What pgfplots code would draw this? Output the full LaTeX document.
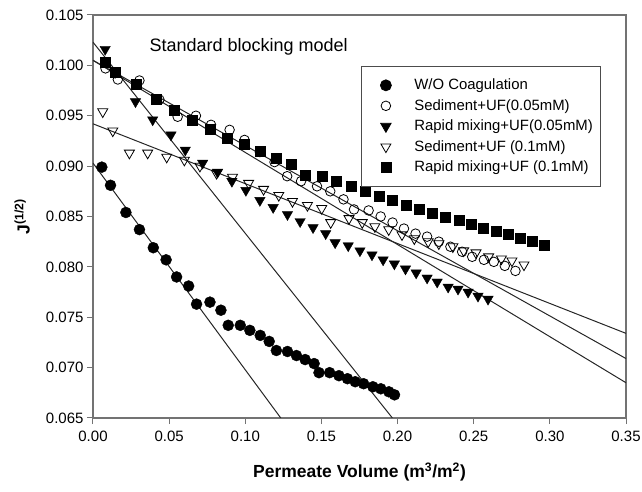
\documentclass[border=0pt]{standalone}
\usepackage{fontspec}
\setmainfont{Liberation Sans}
\usepackage{pgfplots}
\pgfplotsset{compat=1.18}
\begin{document}
\begin{tikzpicture}[x=1pt,y=1pt]
\path[use as bounding box] (-93,-74) rectangle (549,418);
\begin{axis}[
  at={(0,0)}, anchor=south west,
  scale only axis, width=533pt, height=403pt,
  xmin=0, xmax=0.35, ymin=0.065, ymax=0.105,
  xtick={0,0.05,0.1,0.15,0.2,0.25,0.3,0.35},
  ytick={0.065,0.07,0.075,0.08,0.085,0.09,0.095,0.1,0.105},
  scaled ticks=false,
  xticklabel style={yshift=-3pt, /pgf/number format/.cd, fixed, fixed zerofill, precision=2},
  yticklabel style={/pgf/number format/.cd, fixed, fixed zerofill, precision=3},
  /pgf/number format/assume math mode=true,
  tick label style={font=\fontsize{15}{17}\selectfont},
  xtick pos=left, ytick pos=left,
  tick align=outside, major tick length=6pt,
  axis line style={black!55, line width=1.2pt},
  tick style={black!55, line width=1pt},
  xlabel={\textbf{Permeate Volume (m\textsuperscript{3}/m\textsuperscript{2})}},
  ylabel={\textbf{J\textsuperscript{(1/2)}}},
  label style={font=\fontsize{17.5}{19}\selectfont},
  xlabel style={at={(axis description cs:0.5,0)}, anchor=north, yshift=-41pt},
  ylabel style={at={(axis description cs:-0.133,0.5)}, anchor=center},
  legend cell align=left,
  legend image code/.code={\path (-18pt,0pt); \draw[#1] plot coordinates {(0pt,0pt)};},
  legend style={at={(rel axis cs:0.503,0.874)}, anchor=north west,
    draw=black!70, line width=0.8pt, font=\fontsize{14.9}{16}\selectfont,
    inner xsep=6pt, inner ysep=11pt, row sep=4.2pt,
    /tikz/every odd column/.append style={column sep=21pt}},
]
% fitted lines
\addplot[forget plot, black!85, line width=1pt] coordinates {(0,0.0903) (0.1233,0.065)};
\addplot[forget plot, black!85, line width=1pt] coordinates {(0,0.1023) (0.1966,0.065)};
\addplot[forget plot, black!85, line width=1pt] coordinates {(0,0.0942) (0.35,0.0734)};
\addplot[forget plot, black!85, line width=1pt] coordinates {(0,0.1005) (0.35,0.0709)};
\addplot[forget plot, black!85, line width=1pt] coordinates {(0,0.1005) (0.35,0.0685)};
% W/O Coagulation
\addplot[only marks, mark=*, mark size=5.5pt, black, mark options={fill=black}] coordinates {
(0.0058,0.0899) (0.0115,0.0881) (0.0216,0.0854) (0.0305,0.0837) (0.0396,0.0819)
(0.0480,0.0807) (0.0549,0.0790) (0.0628,0.0781) (0.0680,0.0763) (0.0768,0.0765)
(0.0840,0.0757) (0.0888,0.0742) (0.0967,0.0742) (0.1030,0.0737) (0.1098,0.0732)
(0.1157,0.0726) (0.1204,0.0717) (0.1277,0.0716) (0.1336,0.0712) (0.1393,0.0708)
(0.1452,0.0704) (0.1484,0.0695) (0.1554,0.0695) (0.1615,0.0692) (0.1671,0.0689)
(0.1722,0.0686) (0.1777,0.0684) (0.1838,0.0681) (0.1890,0.0679) (0.1943,0.0676)
(0.1980,0.0673)};
\addlegendentry{W/O Coagulation}
% Sediment+UF(0.05mM)
\addplot[only marks, mark=o, mark size=4.8pt, black, line width=0.8pt] coordinates {
(0.0082,0.0997) (0.0163,0.0986) (0.0305,0.0985) (0.0436,0.0966) (0.0556,0.0949)
(0.0676,0.0950) (0.0775,0.0941) (0.0897,0.0936) (0.0995,0.0926) (0.1096,0.0914)
(0.1192,0.0904) (0.1275,0.0890) (0.1366,0.0885) (0.1471,0.0880) (0.1558,0.0875)
(0.1645,0.0867) (0.1714,0.0857) (0.1810,0.0856) (0.1889,0.0850) (0.1967,0.0844)
(0.2042,0.0838) (0.2118,0.0833) (0.2194,0.0830) (0.2271,0.0825) (0.2347,0.0820)
(0.2424,0.0815) (0.2490,0.0810) (0.2567,0.0807) (0.2632,0.0805) (0.2704,0.0801)
(0.2774,0.0796)};
\addlegendentry{Sediment+UF(0.05mM)}
% Rapid mixing+UF(0.05mM)
\addplot[only marks, mark=triangle*, mark size=6pt, black, mark options={rotate=180, fill=black}] coordinates {
(0.0080,0.1016) (0.0145,0.0993) (0.0279,0.0964) (0.0392,0.0946) (0.0512,0.0931)
(0.0606,0.0916) (0.0720,0.0903) (0.0818,0.0894) (0.0912,0.0885) (0.1004,0.0876)
(0.1096,0.0866) (0.1183,0.0859) (0.1277,0.0852) (0.1360,0.0845) (0.1445,0.0839)
(0.1528,0.0833) (0.1590,0.0824) (0.1676,0.0821) (0.1753,0.0816) (0.1832,0.0812)
(0.1905,0.0807) (0.1979,0.0803) (0.2052,0.0798) (0.2122,0.0794) (0.2194,0.0789)
(0.2260,0.0785) (0.2332,0.0780) (0.2397,0.0778) (0.2463,0.0775) (0.2528,0.0771)
(0.2594,0.0768)};
\addlegendentry{Rapid mixing+UF(0.05mM)}
% Sediment+UF (0.1mM)
\addplot[only marks, mark=triangle, mark size=5.8pt, black, line width=0.8pt, mark options={rotate=180}] coordinates {
(0.0064,0.0954) (0.0130,0.0935) (0.0239,0.0913) (0.0359,0.0913) (0.0484,0.0909)
(0.0600,0.0906) (0.0702,0.0900) (0.0811,0.0893) (0.0916,0.0889) (0.1022,0.0883)
(0.1120,0.0877) (0.1220,0.0871) (0.1310,0.0865) (0.1408,0.0861) (0.1502,0.0858)
(0.1561,0.0844) (0.1681,0.0848) (0.1768,0.0844) (0.1851,0.0840) (0.1942,0.0837)
(0.2029,0.0832) (0.2110,0.0828) (0.2201,0.0825) (0.2271,0.0823) (0.2363,0.0820)
(0.2434,0.0816) (0.2515,0.0814) (0.2598,0.0810) (0.2682,0.0808) (0.2751,0.0806)
(0.2830,0.0802)};
\addlegendentry{Sediment+UF (0.1mM)}
% Rapid mixing+UF (0.1mM)
\addplot[only marks, mark=square*, mark size=5pt, black, mark options={fill=black}] coordinates {
(0.0080,0.1003) (0.0147,0.0993) (0.0283,0.0981) (0.0414,0.0966) (0.0534,0.0956)
(0.0654,0.0946) (0.0770,0.0937) (0.0879,0.0928) (0.0995,0.0922) (0.1096,0.0915)
(0.1204,0.0908) (0.1304,0.0902) (0.1391,0.0891) (0.1504,0.0890) (0.1600,0.0885)
(0.1695,0.0880) (0.1786,0.0875) (0.1877,0.0870) (0.1967,0.0866) (0.2057,0.0861)
(0.2144,0.0857) (0.2227,0.0853) (0.2315,0.0849) (0.2402,0.0846) (0.2485,0.0842)
(0.2559,0.0838) (0.2646,0.0835) (0.2724,0.0832) (0.2806,0.0828) (0.2882,0.0825)
(0.2965,0.0822)};
\addlegendentry{Rapid mixing+UF (0.1mM)}
\node[anchor=west, font=\fontsize{18}{20}\selectfont, inner sep=0pt] at (axis cs:0.037,0.1018) {Standard blocking model};
\end{axis}
\end{tikzpicture}
\end{document}
